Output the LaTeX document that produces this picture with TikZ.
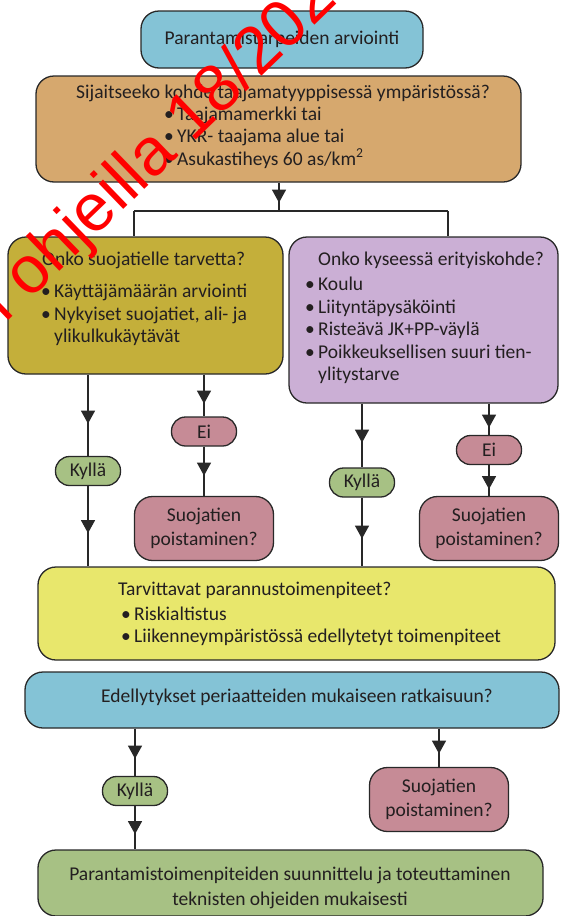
\documentclass[tikz,border=0pt]{standalone}
\usepackage{fontspec}
\setmainfont{Carlito}
\newfontfamily\wmfont{Liberation Sans}
\usetikzlibrary{arrows.meta,decorations.markings}

\definecolor{boxblue}{RGB}{132,195,214}
\definecolor{boxtan}{RGB}{214,168,110}
\definecolor{boxolive}{RGB}{196,175,58}
\definecolor{boxlilac}{RGB}{203,175,213}
\definecolor{boxrose}{RGB}{198,139,150}
\definecolor{boxgreen}{RGB}{167,193,132}
\definecolor{boxyellow}{RGB}{232,231,108}
\definecolor{edge}{RGB}{40,40,40}
\definecolor{ink}{RGB}{35,31,32}

\newcommand{\bul}{\makebox[13pt][l]{\textbullet}}

\begin{document}
\begin{tikzpicture}[
  x=1pt, y=-1pt,
  font=\fontsize{19.5}{23}\selectfont,
  box/.style={rectangle, rounded corners=18pt, draw=edge, line width=1.3pt,
              text=ink, align=center, inner sep=0pt},
  pill/.style={rectangle, rounded corners=14pt, draw=edge, line width=1.3pt,
               text=ink, minimum width=65pt, minimum height=29pt, inner sep=0pt},
  yespill/.style={pill, fill=boxgreen},
  nopill/.style={pill, fill=boxrose},
  removal/.style={box, fill=boxrose, minimum width=139pt, minimum height=64pt,
                  font=\fontsize{19.5}{24}\selectfont},
  title/.style={text=ink, inner sep=0pt, anchor=mid west},
  item/.style={text=ink, inner sep=0pt, anchor=mid west},
  link/.style={draw=edge, color=edge, line width=1.2pt},
  midarr/.style={link, postaction={decorate}, decoration={markings,
                 mark=at position #1 with {\arrow{Triangle[width=14pt,length=13pt]}}}},
  wmark/.style={font=\wmfont\fontsize{66.7}{70}\selectfont, text=red,
                anchor=base west, rotate=44, inner sep=0pt},
]
\useasboundingbox (0,0) rectangle (560,916);

% boxes
\node[box, fill=boxblue, minimum width=282pt, minimum height=57pt] (arv) at (282,39.5) {Parantamistarpeiden arviointi};

\node[box, fill=boxtan, minimum width=485pt, minimum height=106pt] (taaj) at (278.5,129) {};
\node[title] (taajq) at (76,96) {Sijaitseeko kohde taajamatyyppisessä ympäristössä?};
\node[item] (taaj1) at (164,118) {\bul Taajamamerkki tai};
\node[item] (taaj2) at (164,140) {\bul YKR- taajama alue tai};
\node[item] (taaj3) at (164,163) {\bul Asukastiheys 60 as/km\textsuperscript{2}};

\node[box, fill=boxolive, minimum width=275pt, minimum height=137pt] (suoj) at (145.5,305.5) {};
\node[title] (suojq) at (42,263) {Onko suojatielle tarvetta?};
\node[item] (suoj1) at (41,295) {\bul Käyttäjämäärän arviointi};
\node[item] (suoj2) at (41,318) {\bul Nykyiset suojatiet, ali- ja};
\node[item] (suoj3) at (54,340) {ylikulkukäytävät};

\node[box, fill=boxlilac, minimum width=269pt, minimum height=166pt] (erit) at (423.5,320) {};
\node[title] (eritq) at (318,263) {Onko kyseessä erityiskohde?};
\node[item] (erit1) at (305,288) {\bul Koulu};
\node[item] (erit2) at (305,311) {\bul Liityntäpysäköinti};
\node[item] (erit3) at (305,333) {\bul Risteävä JK+PP-väylä};
\node[item] (erit4) at (305,356) {\bul Poikkeuksellisen suuri tien-};
\node[item] (erit5) at (318,378) {ylitystarve};

\node[yespill] (kyl1) at (88,471) {Kyllä};
\node[nopill] (ei1) at (204,431.5) {Ei};
\node[removal] (poi1) at (204,528.5) {Suojatien\\poistaminen?};

\node[yespill] (kyl2) at (362,482.5) {Kyllä};
\node[nopill] (ei2) at (489,450) {Ei};
\node[removal] (poi2) at (489,528.5) {Suojatien\\poistaminen?};

\node[box, fill=boxyellow, minimum width=517pt, minimum height=93pt] (tarv) at (296.5,613.5) {};
\node[title] (tarvq) at (118,593) {Tarvittavat parannustoimenpiteet?};
\node[item] (tarv1) at (121,618) {\bul Riskialtistus};
\node[item] (tarv2) at (121,640) {\bul Liikenneympäristössä edellytetyt toimenpiteet};

\node[box, fill=boxblue, minimum width=534pt, minimum height=56pt] (edel) at (292,700) {};
\node[text=ink, inner sep=0pt, anchor=mid] (edelq) at (297,700) {Edellytykset periaatteiden mukaiseen ratkaisuun?};

\node[yespill] (kyl3) at (135,791) {Kyllä};
\node[removal] (poi3) at (439,799.5) {Suojatien\\poistaminen?};

\node[box, fill=boxgreen, minimum width=505pt, minimum height=66pt] (tot) at (290.5,883) {};
\node[text=ink, inner sep=0pt, align=center, font=\fontsize{19.5}{25}\selectfont] (totq) at (290,887.5)
  {Parantamistoimenpiteiden suunnittelu ja toteuttaminen\\teknisten ohjeiden mukaisesti};

% connectors
\coordinate (jn) at (279,211);
\coordinate (jl) at (134,211);
\coordinate (jr) at (448,211);
\draw[midarr=20pt] (taaj.south -| jn) -- (jn);
\draw[link] (jl) -- (jr);
\draw[link] (jl) -- (jl |- suoj.north);
\draw[link] (jr) -- (jr |- erit.north);

\draw[midarr=49pt] (suoj.south -| kyl1) -- (kyl1.north);
\draw[midarr=47pt] (kyl1.south) -- (kyl1.south |- tarv.north);
\draw[midarr=29pt] (suoj.south -| ei1) -- (ei1.north);
\draw[midarr=29pt] (ei1.south) -- (poi1.north);

\draw[midarr=39pt] (erit.south -| kyl2) -- (kyl2.north);
\draw[midarr=41pt] (kyl2.south) -- (kyl2.south |- tarv.north);
\draw[midarr=24pt] (erit.south -| ei2) -- (ei2.north);
\draw[midarr=24pt] (ei2.south) -- (poi2.north);

\draw[midarr=30pt] (edel.south -| kyl3) -- (kyl3.north);
\draw[midarr=28pt] (kyl3.south) -- (kyl3.south |- tot.north);
\draw[midarr=25pt] (edel.south -| poi3) -- (poi3.north);

% watermark
\node[wmark] (wm) at (5.7,323.5) {l ohjeilla 18/2022};

\end{tikzpicture}
\end{document}
